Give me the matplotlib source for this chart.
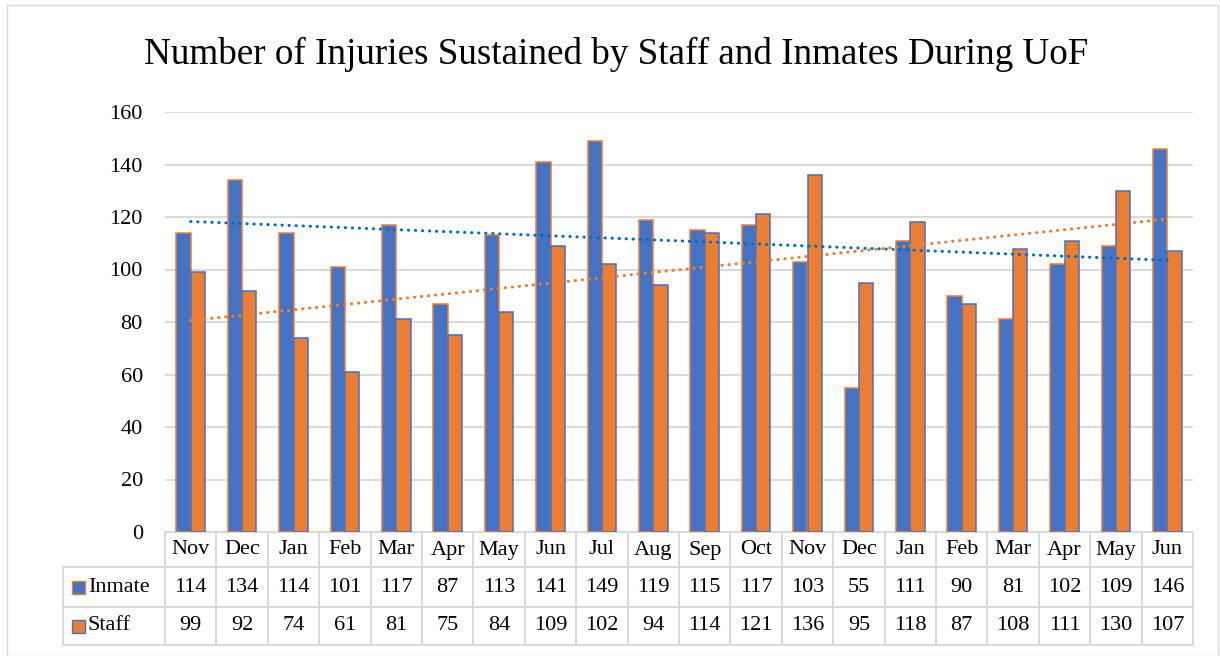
import numpy as np
import matplotlib
matplotlib.use("Agg")
import matplotlib.pyplot as plt
from matplotlib.patches import Rectangle
from matplotlib.transforms import blended_transform_factory

months = ["Nov", "Dec", "Jan", "Feb", "Mar", "Apr", "May", "Jun", "Jul", "Aug",
          "Sep", "Oct", "Nov", "Dec", "Jan", "Feb", "Mar", "Apr", "May", "Jun"]
inmate = [114, 134, 114, 101, 117, 87, 113, 141, 149, 119,
          115, 117, 103, 55, 111, 90, 81, 102, 109, 146]
staff = [99, 92, 74, 61, 81, 75, 84, 109, 102, 94,
         114, 121, 136, 95, 118, 87, 108, 111, 130, 107]

BLUE = "#4472C4"
ORANGE = "#ED7D31"
TREND_BLUE = "#0070C0"
GRID = "#D9D9D9"
FONT = "Liberation Serif"
FS = 16

W, H = 1220, 656
fig = plt.figure(figsize=(W / 100, H / 100), dpi=100)

# axes placed in pixel coordinates
left, right, top, bottom = 165, 1193, 112, 532
ax = fig.add_axes([left / W, 1 - bottom / H, (right - left) / W, (bottom - top) / H])

# outer chart border
fig.patches.append(Rectangle((7 / W, 0), (1218 - 7) / W, 1 - 5 / H,
                             transform=fig.transFigure, fill=False,
                             edgecolor=GRID, linewidth=1.0))

x = np.arange(len(months))
bw = 0.28
ax.bar(x - bw / 2, inmate, bw, color=BLUE, edgecolor=ORANGE, linewidth=1.1, zorder=3)
ax.bar(x + bw / 2, staff, bw, color=ORANGE, edgecolor=BLUE, linewidth=1.1, zorder=3)

# linear trendlines
for vals, col in [(inmate, TREND_BLUE), (staff, ORANGE)]:
    k, b = np.polyfit(x, vals, 1)
    ax.plot(x, k * x + b, color=col, linewidth=2.2, linestyle=(0, (0.1, 2.2)),
            dash_capstyle="round", zorder=4)

ax.set_xlim(-0.5, len(months) - 0.5)
ax.set_ylim(0, 160)
ax.set_yticks(range(0, 161, 20))
ax.yaxis.grid(True, color=GRID, linewidth=1.4, zorder=0)
ax.set_xticks([])
ax.tick_params(axis="y", length=0, pad=16, labelsize=FS)
for lbl in ax.get_yticklabels():
    lbl.set_fontfamily(FONT)
for s in ["top", "right", "left"]:
    ax.spines[s].set_visible(False)
ax.spines["bottom"].set_color(GRID)
ax.spines["bottom"].set_linewidth(1.4)

fig.text(0.5 * (145 + 1087) / W, 1 - 54 / H,
         "Number of Injuries Sustained by Staff and Inmates During UoF",
         ha="center", va="center", fontsize=26.7, fontfamily=FONT)

# data table below the axis
tr = blended_transform_factory(ax.transData, ax.transAxes)
ah = bottom - top


def yfrac(py):
    return (bottom - py) / ah


r0, r1, r2, r3 = yfrac(533), yfrac(567), yfrac(607), yfrac(645)
unit = (right - left) / len(months)
legx = -0.5 - (left - 63) / unit
lk = dict(color=GRID, linewidth=1.4, transform=tr, clip_on=False)

for yy in [r1, r2, r3]:
    ax.plot([legx, len(months) - 0.5], [yy, yy], **lk)
ax.plot([legx, legx], [r1, r3], **lk)
for i in range(len(months) + 1):
    ax.plot([i - 0.5, i - 0.5], [0, r3], **lk)

tk = dict(ha="center", va="center", fontsize=FS, fontfamily=FONT,
          transform=tr, clip_on=False)
for i, m in enumerate(months):
    ax.text(i, (r0 + r1) / 2, m, **tk)
    ax.text(i, (r1 + r2) / 2, str(inmate[i]), **tk)
    ax.text(i, (r2 + r3) / 2, str(staff[i]), **tk)

# legend keys in the table
for (name, fc, ec), (ya, yb) in zip([("Inmate", BLUE, ORANGE), ("Staff", ORANGE, BLUE)],
                                    [(r1, r2), (r2, r3)]):
    yc = (ya + yb) / 2
    x0 = -0.5 - (left - 72) / unit
    sq_w = 13 / unit
    sq_h = 13 / ah
    ax.add_patch(Rectangle((x0, yc - sq_h / 2), sq_w, sq_h, facecolor=fc,
                           edgecolor=ec, linewidth=1.0, transform=tr, clip_on=False))
    ax.text(-0.5 - (left - 88) / unit, yc, name, ha="left", va="center",
            fontsize=FS, fontfamily=FONT, transform=tr, clip_on=False)

fig.savefig("out.png", dpi=100)
